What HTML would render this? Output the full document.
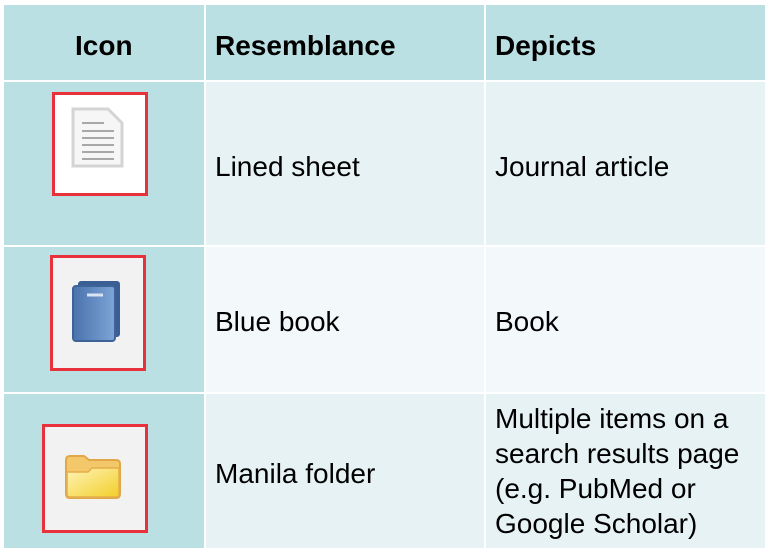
<!DOCTYPE html>
<html><head><meta charset="utf-8"><style>
body{margin:0;width:773px;height:560px;background:#fff;position:relative;overflow:hidden;font-family:"Liberation Sans",sans-serif;color:#000}
.c{position:absolute;box-sizing:border-box}
.t{position:absolute;font-size:28px;line-height:35px;white-space:nowrap}
.h{font-weight:bold}
.box{position:absolute;box-sizing:border-box;border:3px solid #e8313a}
</style></head><body>
<div class="c" style="left:4px;top:5px;width:200px;height:75px;background:#bbe0e3"></div>
<div class="c" style="left:206px;top:5px;width:278px;height:75px;background:#bbe0e3"></div>
<div class="c" style="left:486px;top:5px;width:279px;height:75px;background:#bbe0e3"></div>
<div class="c" style="left:4px;top:82px;width:200px;height:163px;background:#bbe0e3"></div>
<div class="c" style="left:4px;top:247px;width:200px;height:145px;background:#bbe0e3"></div>
<div class="c" style="left:4px;top:394px;width:200px;height:154px;background:#bbe0e3"></div>
<div class="c" style="left:206px;top:82px;width:278px;height:163px;background:#e7f2f4"></div>
<div class="c" style="left:486px;top:82px;width:279px;height:163px;background:#e7f2f4"></div>
<div class="c" style="left:206px;top:247px;width:278px;height:145px;background:#f3f8fa"></div>
<div class="c" style="left:486px;top:247px;width:279px;height:145px;background:#f3f8fa"></div>
<div class="c" style="left:206px;top:394px;width:278px;height:154px;background:#e7f2f4"></div>
<div class="c" style="left:486px;top:394px;width:279px;height:154px;background:#e7f2f4"></div>

<div class="t h" style="left:75px;top:28px">Icon</div>
<div class="t h" style="left:215px;top:28px">Resemblance</div>
<div class="t h" style="left:495px;top:28px">Depicts</div>

<div class="t" style="left:215px;top:149px">Lined sheet</div>
<div class="t" style="left:495px;top:149px">Journal article</div>
<div class="t" style="left:215px;top:304px">Blue book</div>
<div class="t" style="left:495px;top:304px">Book</div>
<div class="t" style="left:215px;top:456px">Manila folder</div>
<div class="t" style="left:495px;top:401px">Multiple items on a<br>search results page<br>(e.g. PubMed or<br>Google Scholar)</div>

<div class="box" style="left:52px;top:92px;width:96px;height:104px;background:#fff"></div>
<svg style="position:absolute;left:70px;top:106px" width="56" height="64">
<path d="M3 3 H38 L52 17 V60 H3 Z" fill="#f6f6f6" stroke="#d4d4d4" stroke-width="3"/>
<g stroke="#a8a8a8" stroke-width="2"><line x1="12" y1="17" x2="34" y2="17"/><line x1="12" y1="25" x2="44" y2="25"/><line x1="12" y1="32" x2="44" y2="32"/><line x1="12" y1="39" x2="44" y2="39"/><line x1="12" y1="46" x2="44" y2="46"/><line x1="12" y1="53" x2="44" y2="53"/></g>
</svg>

<div class="box" style="left:50px;top:255px;width:96px;height:116px;background:#f2f2f2"></div>
<svg style="position:absolute;left:70px;top:279px" width="54" height="66">
<defs><linearGradient id="b" x1="0" x2="1"><stop offset="0" stop-color="#4a72ac"/><stop offset="1" stop-color="#7ea5d6"/></linearGradient></defs>
<rect x="8" y="2" width="42" height="56" rx="3" fill="#3a5f94"/>
<rect x="3" y="7" width="42" height="55" rx="3" fill="url(#b)" stroke="#3d6398" stroke-width="2"/>
<line x1="17" y1="16" x2="33" y2="16" stroke="#d8e4f4" stroke-width="3"/>
</svg>

<div class="box" style="left:42px;top:424px;width:106px;height:109px;background:#f2f2f2"></div>
<svg style="position:absolute;left:64px;top:454px" width="58" height="46">
<defs><linearGradient id="f" x1="0" y1="0" x2="1" y2="1"><stop offset="0" stop-color="#fff3b8"/><stop offset="1" stop-color="#f2cf2a"/></linearGradient></defs>
<path d="M2 6 Q2 2 6 2 H20 L25 6 H52 Q56 6 56 10 V40 Q56 44 52 44 H6 Q2 44 2 40 Z" fill="#f3c86b" stroke="#e0a848" stroke-width="2"/>
<path d="M3 18 H24 L28 14 H55 V40 Q55 43 52 43 H6 Q3 43 3 40 Z" fill="url(#f)" stroke="#e4ae4a" stroke-width="1.5"/>
</svg>
</body></html>
